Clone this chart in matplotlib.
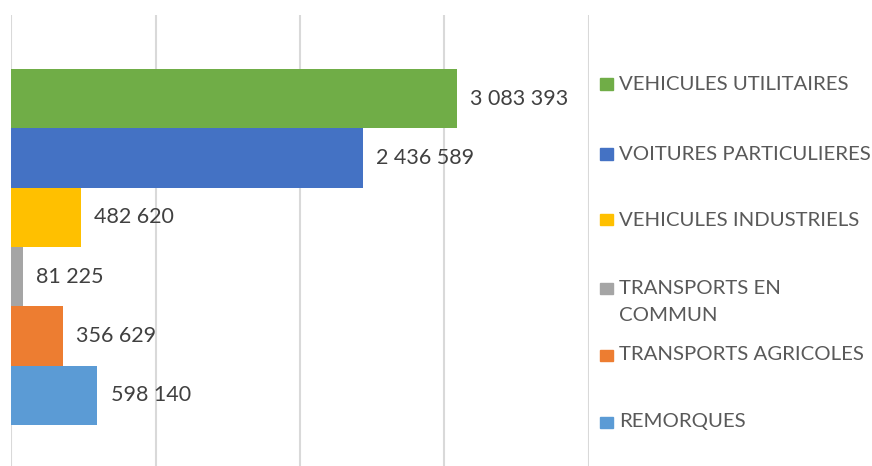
import matplotlib.pyplot as plt
from matplotlib.patches import Rectangle

# --- data ---
categories = ["VEHICULES UTILITAIRES", "VOITURES PARTICULIERES", "VEHICULES INDUSTRIELS",
              "TRANSPORTS EN\nCOMMUN", "TRANSPORTS AGRICOLES", "REMORQUES"]
values = [3083393, 2436589, 482620, 81225, 356629, 598140]
colors = ["#70AD47", "#4472C4", "#FFC000", "#A5A5A5", "#ED7D31", "#5B9BD5"]
x_ticks = [0, 1000000, 2000000, 3000000, 4000000]

plt.rcParams['font.family'] = ['Lato', 'DejaVu Sans']

W, H = 872, 466
fig = plt.figure(figsize=(W / 100, H / 100), dpi=100)
ax = fig.add_axes([11 / W, 0, 578 / W, (H - 15) / H])

pos = list(range(len(values)))
ax.barh(pos, values, height=1.0, color=colors)
ax.set_xlim(0, 4000000)
ax.set_ylim(6.19, -1.41)

ax.set_xticks(x_ticks)
ax.xaxis.grid(True, color="#d9d9d9", linewidth=1.5)
ax.set_axisbelow(True)
ax.tick_params(length=0, labelbottom=False, labelleft=False)
for s in ax.spines.values():
    s.set_visible(False)

# value labels
for p, v in zip(pos, values):
    ax.annotate(f"{v:,}".replace(",", " "), (v, p), xytext=(9.5, 0),
                textcoords="offset points", va="center", ha="left",
                fontsize=15.5, color="#404040")

# legend, drawn by hand for the uneven spacing
legend_y = [84, 154, 220, 302, 355, 422]
for lab, c, y in zip(categories, colors, legend_y):
    two = "\n" in lab
    sq_y = y - 14 if two else y
    fig.patches.append(Rectangle((600 / W, 1 - (sq_y + 5.5) / H), 13 / W, 11 / H,
                                 transform=fig.transFigure, color=c))
    fig.text(619 / W, 1 - y / H, lab, va="center", ha="left", fontsize=14.7,
             color="#595959", linespacing=1.67)

plt.savefig("out.png", dpi=100)
